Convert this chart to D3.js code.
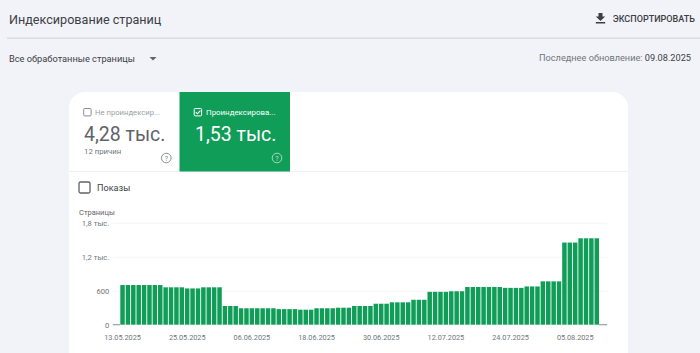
<!DOCTYPE html>
<html>
<head>
<meta charset="utf-8">
<script src="https://cdnjs.cloudflare.com/ajax/libs/d3/7.8.5/d3.min.js"></script>
<style>
  html, body { margin: 0; padding: 0; background: #f1f3f9; overflow: hidden; }
  svg { display: block; font-family: Roboto, sans-serif; }
  .axis text { font-family: Roboto, sans-serif; fill: #70757a; }
  .axis .tick line, .axis .domain { display: none; }
  .y-labels text { font-size: 7.6px; }
  .x-labels text { font-size: 7.3px; }
  .grid .tick line { stroke: #f4f4f4; stroke-width: 1; }
  .grid .domain, .grid text { display: none; }
</style>
</head>
<body>
<div id="chart"></div>
<script>
  // pages per day, 13.05.2025 - 09.08.2025
  var pages = [
    700, 700, 700, 700, 700, 700, 700, 700,
    660, 660, 660, 660,
    640, 640, 640,
    660, 660, 660, 660,
    330, 330, 330,
    290, 290, 290, 290, 290, 290, 290,
    275, 275, 275, 275,
    265, 265, 265,
    290, 290, 290, 290,
    300, 300, 300,
    330, 330, 330, 330,
    370, 370, 370,
    395, 395, 395, 395,
    440, 440, 440,
    580, 580, 580, 580,
    590, 590, 590,
    665, 665, 665, 665, 665, 665, 665,
    650, 650, 650, 650,
    675, 675, 675,
    765, 765, 765, 765,
    1450, 1450, 1450,
    1525, 1525, 1525, 1525
  ];
  var yTicks = [0, 600, 1200, 1800];
  var yTickLabels = ["0", "600", "1,2 тыс.", "1,8 тыс."];
  var xTickDates = ["2025-05-13", "2025-05-25", "2025-06-06", "2025-06-18", "2025-06-30",
                    "2025-07-12", "2025-07-24", "2025-08-05"];

  var parseDate = d3.timeParse("%Y-%m-%d");
  var formatDate = d3.timeFormat("%d.%m.%Y");
  var days = d3.timeDay.range(parseDate("2025-05-13"), parseDate("2025-08-10"));

  var svg = d3.select("#chart").append("svg")
      .attr("width", 700)
      .attr("height", 353);

  function label(x, y, str, size, color, anchor, weight) {
    return svg.append("text")
      .attr("x", x).attr("y", y)
      .attr("font-size", size)
      .attr("fill", color)
      .attr("text-anchor", anchor || "start")
      .attr("font-weight", weight || 400)
      .text(str);
  }

  ////// page header //////
  label(9, 24, "Индексирование страниц", 12.6, "#3c4043");
  svg.append("rect").attr("x", 7).attr("y", 37.5).attr("width", 693).attr("height", 1.5).attr("fill", "#dadce0");
  label(9, 62, "Все обработанные страницы", 9.25, "#3c4043");
  svg.append("path").attr("d", "M149.5 57h7l-3.5 3.6z").attr("fill", "#5f6368");

  // download icon
  svg.append("path")
    .attr("d", "M598.5 13h4v3.5h2.7l-4.7 4.6-4.7-4.6h2.7z M595.8 22h9.4v1.6h-9.4z")
    .attr("fill", "#3c4043");
  label(695, 22, "ЭКСПОРТИРОВАТЬ", 9.05, "#3c4043", "end", 500);

  var updated = svg.append("text").attr("x", 691).attr("y", 61).attr("text-anchor", "end").attr("font-size", 9.2);
  updated.append("tspan").attr("fill", "#70757a").text("Последнее обновление: ");
  updated.append("tspan").attr("fill", "#3c4043").text("09.08.2025");

  ////// card //////
  svg.append("path")
    .attr("d", "M69 353V108a16 16 0 0 1 16-16H612a16 16 0 0 1 16 16V353z")
    .attr("fill", "#ffffff");
  svg.append("rect").attr("x", 69).attr("y", 171).attr("width", 559).attr("height", 1).attr("fill", "#f1f1f1");

  function help(cx, cy, color) {
    svg.append("circle").attr("cx", cx).attr("cy", cy).attr("r", 4.8)
      .attr("fill", "none").attr("stroke", color).attr("stroke-width", 0.9);
    label(cx, cy + 2.6, "?", 7, color, "middle");
  }

  // not indexed tile
  svg.append("rect").attr("x", 83.7).attr("y", 108.5).attr("width", 7.4).attr("height", 7.4).attr("rx", 1)
    .attr("fill", "none").attr("stroke", "#8a8d91").attr("stroke-width", 1);
  label(95, 115, "Не проиндексир...", 7.7, "#9aa0a6");
  label(84, 141, "4,28 тыс.", 19.5, "#5f6368");
  label(84, 154, "12 причин", 7.8, "#70757a");
  help(166.3, 158, "#80868b");

  // indexed tile
  svg.append("rect").attr("x", 179.5).attr("y", 92).attr("width", 110.5).attr("height", 79.5).attr("fill", "#0f9d58");
  svg.append("rect").attr("x", 194.2).attr("y", 108.5).attr("width", 7.4).attr("height", 7.4).attr("rx", 1)
    .attr("fill", "none").attr("stroke", "#ffffff").attr("stroke-width", 1);
  svg.append("path").attr("d", "M195.8 112.2l1.6 1.6 3-3.2").attr("fill", "none").attr("stroke", "#ffffff").attr("stroke-width", 1.1);
  label(206, 115, "Проиндексирова...", 7.9, "#ffffff");
  label(195, 141, "1,53 тыс.", 19.5, "#ffffff");
  help(277, 158, "#b7e1cd");

  // impressions checkbox
  svg.append("rect").attr("x", 79).attr("y", 182).attr("width", 11).attr("height", 11).attr("rx", 1.5)
    .attr("fill", "none").attr("stroke", "#5f6368").attr("stroke-width", 1.3);
  label(97, 191, "Показы", 9.1, "#3c4043");

  ////// chart //////
  label(79, 215, "Страницы", 7.5, "#5f6368");

  var plot = {left: 113, right: 607, barLeft: 120.3, barRight: 599, top: 222.7, bottom: 324.7};

  var xScale = d3.scaleBand()
      .domain(days)
      .range([plot.barLeft, plot.barRight])
      .paddingInner(0.17)
      .paddingOuter(0);

  var yScale = d3.scaleLinear()
      .domain([0, 1800])
      .range([plot.bottom, plot.top]);

  var yAxisGrid = d3.axisRight(yScale)
      .tickValues(yTicks.slice(1))
      .tickSize(plot.right - plot.left)
      .tickFormat("");

  svg.append("g")
      .attr("class", "grid")
      .attr("transform", "translate(" + plot.left + ",0)")
      .call(yAxisGrid);

  svg.append("g")
      .attr("id", "rects")
      .selectAll(".pagebar")
      .data(pages)
      .enter()
      .append("rect")
      .attr("class", "pagebar")
      .attr("x", function(d, i) { return xScale(days[i]); })
      .attr("width", xScale.bandwidth())
      .attr("y", function(d) { return yScale(d); })
      .attr("height", function(d) { return plot.bottom - yScale(d); })
      .attr("fill", "#0f9d58");

  // zero line
  svg.append("line")
      .attr("x1", plot.left).attr("x2", plot.barLeft)
      .attr("y1", yScale(0)).attr("y2", yScale(0))
      .attr("stroke", "#9aa0a6").attr("stroke-width", 1.2);
  svg.append("line")
      .attr("x1", plot.barRight).attr("x2", plot.right)
      .attr("y1", yScale(0)).attr("y2", yScale(0))
      .attr("stroke", "#9aa0a6").attr("stroke-width", 1.2);

  var yAxis = d3.axisLeft(yScale)
      .tickValues(yTicks)
      .tickSize(0)
      .tickPadding(0)
      .tickFormat(function(d, i) { return yTickLabels[i]; });

  svg.append("g")
      .attr("class", "axis y-labels")
      .attr("transform", "translate(" + (plot.left - 3.7) + ",0)")
      .call(yAxis);

  var xAxis = d3.axisBottom(xScale)
      .tickValues(xTickDates.map(parseDate))
      .tickSize(0)
      .tickPadding(10.5)
      .tickFormat(formatDate);

  svg.append("g")
      .attr("class", "axis x-labels")
      .attr("transform", "translate(0," + plot.bottom + ")")
      .call(xAxis);
</script>
</body>
</html>
